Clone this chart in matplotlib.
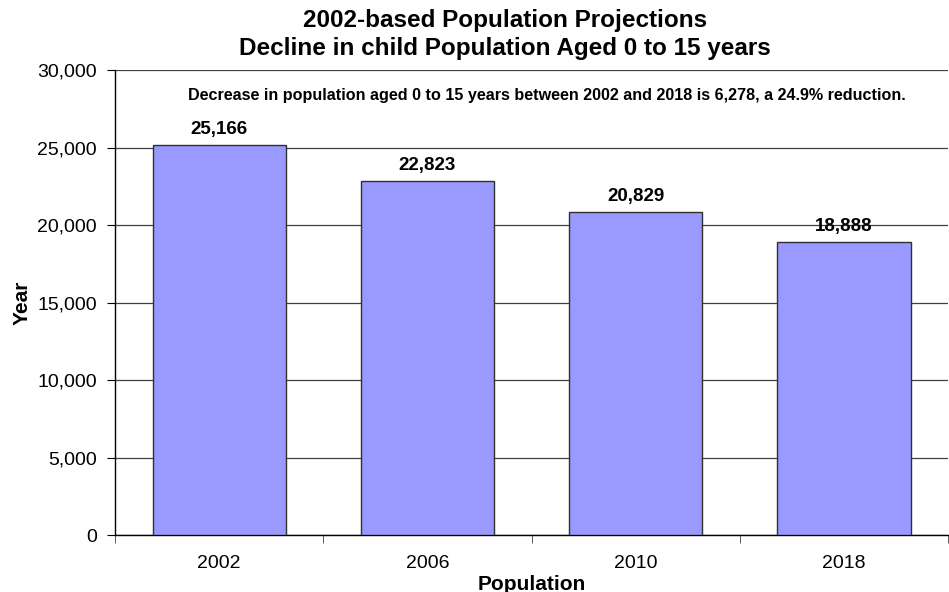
import matplotlib.pyplot as plt
import numpy as np

plt.rcParams['font.family'] = ['Liberation Sans', 'DejaVu Sans']

years = ['2002', '2006', '2010', '2018']
population = [25166, 22823, 20829, 18888]
y_ticks = [0, 5000, 10000, 15000, 20000, 25000, 30000]

fig = plt.figure(figsize=(9.49, 5.92), dpi=100)
ax = fig.add_axes([0.1212, 0.0958, 0.878, 0.786])

x = np.arange(len(years))
bars = ax.bar(x, population, width=0.64, color='#9999FF',
              edgecolor='#303030', linewidth=1, zorder=3)

for xi, v in zip(x, population):
    ax.text(xi, v + 450, f'{v:,}', ha='center', va='bottom',
            fontsize=13.5, fontweight='bold', zorder=4)

ax.set_xlim(-0.5, len(years) - 0.5)
ax.set_ylim(0, 30000)
ax.set_yticks(y_ticks)
ax.set_yticklabels([f'{t:,}' for t in y_ticks], fontsize=14)
ax.set_xticks(x)
ax.set_xticklabels(years, fontsize=14)
ax.set_xticks(np.arange(len(years) + 1) - 0.5, minor=True)
ax.tick_params(axis='x', which='major', length=0, pad=14)
ax.tick_params(axis='x', which='minor', length=6, color='#404040')
ax.tick_params(axis='y', length=6, pad=7)

ax.yaxis.grid(True, color='#404040', linewidth=0.9, zorder=0)
for side in ['top', 'right']:
    ax.spines[side].set_visible(False)
ax.spines['left'].set_linewidth(1)
ax.spines['bottom'].set_linewidth(1)

ax.set_xlabel('Population', fontsize=15, fontweight='bold', labelpad=2)
ax.set_ylabel('Year', fontsize=15, fontweight='bold', labelpad=4)

fig.text(0.532, 0.985, '2002-based Population Projections\nDecline in child Population Aged 0 to 15 years',
         ha='center', va='top', fontsize=17.5, fontweight='bold', linespacing=1.3)
ax.text(0.518, 0.945, 'Decrease in population aged 0 to 15 years between 2002 and 2018 is 6,278, a 24.9% reduction.',
        transform=ax.transAxes, ha='center', va='center', fontsize=11.6, fontweight='bold')

fig.savefig('out.png', dpi=100)
